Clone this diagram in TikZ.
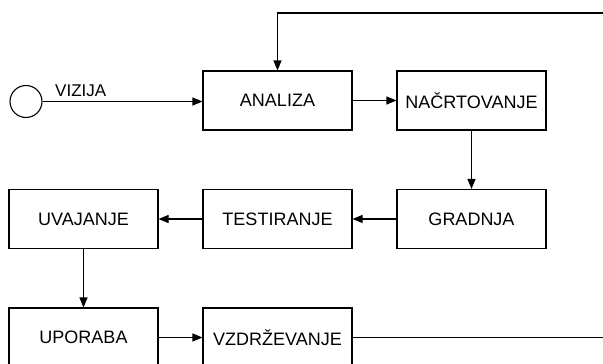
\documentclass[tikz,border=0pt]{standalone}
\usepackage{fontspec}
\setmainfont{Liberation Sans}
\usetikzlibrary{arrows.meta}
\begin{document}
\begin{tikzpicture}[x=1pt,y=-1pt,
  box/.style={draw,line width=1.1pt,minimum width=149pt,minimum height=59pt,inner sep=0pt,font=\fontsize{18}{20}\selectfont},
  conn/.style={line width=1.1pt,-{Triangle[length=10pt,width=8pt]}},
  plain/.style={line width=1.1pt}]
\useasboundingbox (0,0) rectangle (603,364);
\node[draw,circle,line width=1.1pt,minimum size=32pt,inner sep=0pt] (start) at (26,101.5) {};
\node[anchor=base west,inner sep=0pt,font=\fontsize{17}{19}\selectfont] (viz) at (55,96) {VIZIJA};
\node[box] (ana) at (277.5,100.5) {ANALIZA};
\node[box] (nac) at (471.5,100.5) {NAČRTOVANJE};
\node[box] (gra) at (471.5,219) {GRADNJA};
\node[box] (tes) at (277.5,219) {TESTIRANJE};
\node[box] (uva) at (83.5,219) {UVAJANJE};
\node[box] (upo) at (83.5,337.5) {UPORABA};
\node[box] (vzd) at (277.5,337.5) {VZDRŽEVANJE};
\coordinate (rb) at (604,337.5);
\coordinate (rt) at (604,13);
\draw[conn] (start) -- (ana.west |- start);
\draw[conn] (ana) -- (nac);
\draw[conn] (nac) -- (gra);
\draw[conn] (gra) -- (tes);
\draw[conn] (tes) -- (uva);
\draw[conn] (uva) -- (upo);
\draw[conn] (upo) -- (vzd);
\draw[plain] (vzd) -- (rb);
\draw[conn] (rt) -| (ana.north);
\end{tikzpicture}
\end{document}
